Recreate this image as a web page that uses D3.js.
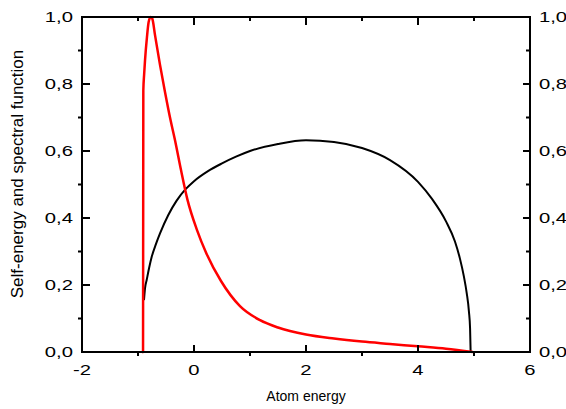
<!DOCTYPE html>
<html>
<head>
<meta charset="utf-8">
<script src="https://cdn.jsdelivr.net/npm/d3@7"></script>
<style>
  html, body { margin: 0; padding: 0; background: #fff; }
  svg { display: block; }
  text { font-family: Arial, "Liberation Sans", sans-serif; fill: #000; }
</style>
</head>
<body>
<script>
// ---- data ----
const xTicks = [-2, 0, 2, 4, 6];
const xMinor = [-1, 1, 3, 5];
const yTicks = [0, 0.2, 0.4, 0.6, 0.8, 1.0];
const yMinor = [0.1, 0.3, 0.5, 0.7, 0.9];
const xTickLabels = ["-2", "0", "2", "4", "6"];
const yTickLabels = ["0,0", "0,2", "0,4", "0,6", "0,8", "1,0"];

// self-energy (black)
const selfX = [-0.893, -0.875, -0.845, -0.80, -0.755, -0.68, -0.607, -0.459, -0.31, -0.15, 0, 0.25, 0.5, 0.75, 1, 1.5, 2, 2.5, 3, 3.5, 4, 4.25, 4.5, 4.66, 4.75, 4.82, 4.87, 4.91, 4.93, 4.94];
const selfY = [0.155, 0.19, 0.215, 0.252, 0.284, 0.322, 0.354, 0.409, 0.452, 0.486, 0.51, 0.54, 0.563, 0.583, 0.6, 0.621, 0.632, 0.627, 0.609, 0.573, 0.508, 0.457, 0.39, 0.33, 0.278, 0.225, 0.176, 0.12, 0.07, 0.0];

// spectral function (red)
const specX = [-0.93, -0.91, -0.905, -0.89, -0.875, -0.84, -0.81, -0.775, -0.745, -0.696, -0.607, -0.518, -0.42, -0.34, -0.232, -0.116, 0.054, 0.214, 0.482, 0.821, 1.18, 1.5, 2, 2.5, 3, 3.5, 4, 4.5, 4.98];
const specY = [0.0, 0.0, 0.78, 0.83, 0.87, 0.94, 0.985, 1.0, 0.995, 0.946, 0.857, 0.776, 0.693, 0.633, 0.543, 0.454, 0.364, 0.297, 0.212, 0.137, 0.095, 0.073, 0.052, 0.04, 0.031, 0.024, 0.017, 0.01, 0.0];

// ---- layout ----
const W = 566, H = 409;
const m = { left: 82, right: 36, top: 17, bottom: 57 };
const labelStretch = 1.35;

const svg = d3.select("body").append("svg").attr("width", W).attr("height", H);

const x = d3.scaleLinear().domain([-2, 6]).range([m.left, W - m.right]);
const y = d3.scaleLinear().domain([0, 1]).range([H - m.bottom, m.top]);

const x0 = x.range()[0], x1 = x.range()[1];
const yb = y.range()[0], yt = y.range()[1];

const line = d3.line().x(d => x(d[0])).y(d => y(d[1])).curve(d3.curveMonotoneX);

svg.append("path").datum(d3.zip(selfX, selfY))
  .attr("d", line).attr("fill", "none").attr("stroke", "#000").attr("stroke-width", 2);
svg.append("path").datum(d3.zip(specX, specY))
  .attr("d", line).attr("fill", "none").attr("stroke", "#f00").attr("stroke-width", 2.5)
  .attr("stroke-linejoin", "round");

// frame
svg.append("rect").attr("x", x0).attr("y", yt).attr("width", x1 - x0).attr("height", yb - yt)
  .attr("fill", "none").attr("stroke", "#000").attr("stroke-width", 2);

// ---- ticks (filled rects, 2px wide) ----
const tk = svg.append("g").attr("fill", "#000");
const vTick = (cls, data, yFrom, len) => tk.selectAll("rect." + cls).data(data).join("rect")
  .attr("class", cls).attr("x", d => x(d) - 1).attr("width", 2)
  .attr("y", len < 0 ? yFrom + len : yFrom).attr("height", Math.abs(len));
const hTick = (cls, data, xFrom, len) => tk.selectAll("rect." + cls).data(data).join("rect")
  .attr("class", cls).attr("y", d => y(d) - 1).attr("height", 2)
  .attr("x", len < 0 ? xFrom + len : xFrom).attr("width", Math.abs(len));
// bottom: major inward, minor outward
vTick("b-major", xTicks, yb, -7);
vTick("b-minor", xMinor, yb, 4);
// top: all inward
vTick("t-major", xTicks, yt, 8);
vTick("t-minor", xMinor, yt, 4);
// left: major inward, minor outward
hTick("l-major", yTicks, x0, 8);
hTick("l-minor", yMinor, x0, -4);
// right: all inward
hTick("r-major", yTicks, x1, -7);
hTick("r-minor", yMinor, x1, -4);

// ---- tick labels ----
const lab = svg.append("g").attr("font-size", 15);
lab.selectAll(".xl").data(xTicks).join("text")
  .attr("transform", d => `translate(${x(d)},${yb + 23}) scale(${labelStretch},1)`)
  .attr("text-anchor", "middle").text((d, i) => xTickLabels[i]);
lab.selectAll(".yl").data(yTicks).join("text")
  .attr("transform", d => `translate(${x0 - 9},${y(d) + 5.3}) scale(${labelStretch},1)`)
  .attr("text-anchor", "end").text((d, i) => yTickLabels[i]);
lab.selectAll(".yr").data(yTicks).join("text")
  .attr("transform", d => `translate(${x1 + 9},${y(d) + 5.3}) scale(${labelStretch},1)`)
  .attr("text-anchor", "start").text((d, i) => yTickLabels[i]);

// axis titles
svg.append("text").attr("x", (x0 + x1) / 2).attr("y", 401)
  .attr("text-anchor", "middle").attr("font-size", 14).text("Atom energy");
svg.append("text").attr("transform", `translate(22.5,174) rotate(-90)`)
  .attr("text-anchor", "middle").attr("font-size", 17).text("Self-energy and spectral function");
</script>
</body>
</html>
